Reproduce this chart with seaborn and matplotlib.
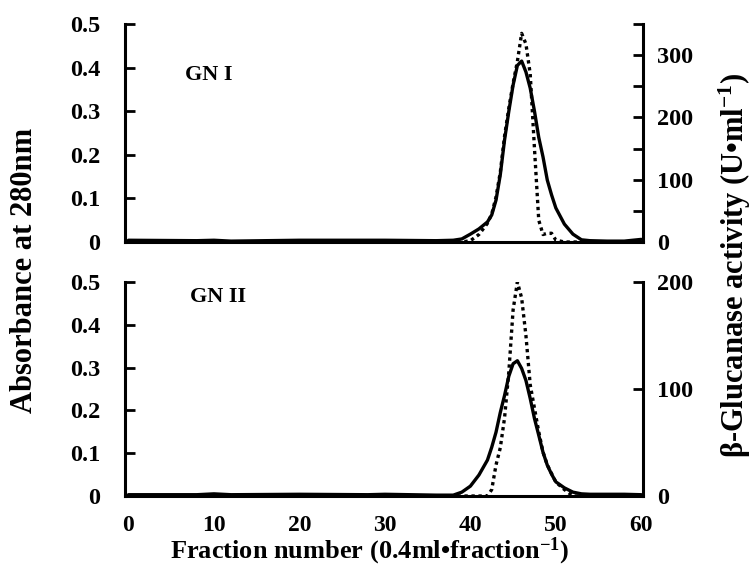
import numpy as np
import seaborn as sns
import matplotlib.pyplot as plt
from matplotlib.ticker import FuncFormatter

# fraction numbers (denser around the peak)
frac = [0, 8, 10, 12, 20, 28, 30, 36, 38, 39, 40, 41, 42, 42.5, 43, 43.5, 44, 44.5,
        45, 45.5, 46, 46.5, 47, 47.5, 48, 48.5, 49, 49.5, 50, 51, 52, 53, 54, 56, 58, 60]

# GN I : absorbance at 280 nm (solid) and beta-glucanase activity (dotted)
gn1_abs = [0.004, 0.003, 0.004, 0.002, 0.004, 0.004, 0.004, 0.003, 0.004, 0.007, 0.018, 0.03,
           0.046, 0.062, 0.096, 0.154, 0.234, 0.30, 0.36, 0.405, 0.415, 0.39, 0.353, 0.30,
           0.24, 0.195, 0.142, 0.108, 0.078, 0.041, 0.018, 0.005, 0.003, 0.002, 0.002, 0.006]
gn1_act = [0, 0, 0, 0, 0, 0, 0, 0, 0, 0, 2, 12,
           30, 45, 72, 112, 170, 215, 255, 290, 335, 318, 270, 150,
           35, 12, 14, 14, 3, 0, 0, 0, 0, 0, 0, 0]

# GN II
gn2_abs = [0.003, 0.003, 0.005, 0.003, 0.004, 0.003, 0.004, 0.002, 0.002, 0.009, 0.023, 0.049,
           0.084, 0.114, 0.149, 0.195, 0.235, 0.28, 0.309, 0.316, 0.298, 0.27, 0.228, 0.181,
           0.142, 0.102, 0.072, 0.051, 0.033, 0.019, 0.009, 0.005, 0.004, 0.004, 0.004, 0.003]
gn2_act = [0, 0, 0, 0, 0, 0, 0, 0, 0, 0, 0, 0,
           0, 6, 29, 45, 73, 116, 174, 200, 185, 150, 104, 82,
           60, 41, 29, 21, 13, 6, 0, 0, 0, 0, 0, 0]

sns.set_style("ticks")
plt.rcParams['font.family'] = ['Liberation Serif', 'DejaVu Serif']
plt.rcParams['font.weight'] = 'bold'
plt.rcParams['mathtext.fontset'] = 'custom'
plt.rcParams['mathtext.rm'] = 'Liberation Serif:bold'
plt.rcParams['mathtext.bf'] = 'Liberation Serif:bold'
plt.rcParams['mathtext.it'] = 'Liberation Serif:bold'
for k in ['text.color', 'axes.labelcolor', 'xtick.color', 'ytick.color', 'axes.edgecolor']:
    plt.rcParams[k] = 'black'

fig = plt.figure(figsize=(7.55, 5.69), dpi=100)
ax_top = fig.add_axes([0.1656, 0.5747, 0.6861, 0.3831])
ax_bot = fig.add_axes([0.1656, 0.1283, 0.6861, 0.3761])

zero_fmt = FuncFormatter(lambda v, p: '0' if abs(v) < 1e-9 else f'{v:.1f}')


def panel(ax, absb, act, act_max, act_major, act_minor, name, pos, show_x):
    sns.lineplot(x=frac, y=absb, ax=ax, color='black', lw=2.4,
                 estimator=None, sort=False, solid_joinstyle='round')
    tw = ax.twinx()
    sns.lineplot(x=frac, y=act, ax=tw, color='black', lw=2.4,
                 estimator=None, sort=False, linestyle=(0, (1, 1.1)))
    ax.set_xlim(-0.4, 60.2)
    ax.set_ylim(0, 0.5)
    ax.set_yticks([0, 0.1, 0.2, 0.3, 0.4, 0.5])
    ax.yaxis.set_major_formatter(zero_fmt)
    tw.set_ylim(0, act_max)
    tw.set_yticks(act_major)
    tw.set_yticks(act_minor, minor=True)
    for s in ['top', 'right']:
        ax.spines[s].set_visible(False)
    for s in ['top', 'left', 'bottom']:
        tw.spines[s].set_visible(False)
    ax.spines['left'].set_linewidth(2.2)
    ax.spines['bottom'].set_linewidth(2.2)
    tw.spines['right'].set_linewidth(2.2)
    ax.tick_params(axis='y', direction='in', length=7, width=2, labelsize=17.5, pad=18)
    tw.tick_params(axis='y', which='both', direction='in', length=7, width=2,
                   labelsize=17.5, pad=10)
    ax.set_xticks([0, 10, 20, 30, 40, 50, 60])
    ax.tick_params(axis='x', length=0, labelsize=17, pad=14, labelbottom=show_x)
    ax.set_ylabel('')
    tw.set_ylabel('')
    ax.text(pos[0], pos[1], name, transform=ax.transAxes,
            fontsize=16, fontweight='bold', va='center')
    return tw


panel(ax_top, gn1_abs, gn1_act, 350, [0, 100, 200, 300], [50, 150, 250, 350],
      'GN I', (0.116, 0.766), False)
panel(ax_bot, gn2_abs, gn2_act, 200, [0, 100, 200], [],
      'GN II', (0.125, 0.93), True)

fig.text(0.032, 0.524, 'Absorbance at 280nm', rotation=90, ha='center', va='center',
         fontsize=22, fontweight='bold')
fig.text(0.973, 0.534, r'β-Glucanase activity (U•ml$^{\mathbf{-1}}$)', rotation=90,
         ha='center', va='center', fontsize=22, fontweight='bold')
fig.text(0.49, 0.018, r'Fraction number (0.4ml•fraction$^{\mathbf{-1}}$)', ha='center',
         va='baseline', fontsize=19, fontweight='bold')

fig.savefig('out.png', dpi=100)
